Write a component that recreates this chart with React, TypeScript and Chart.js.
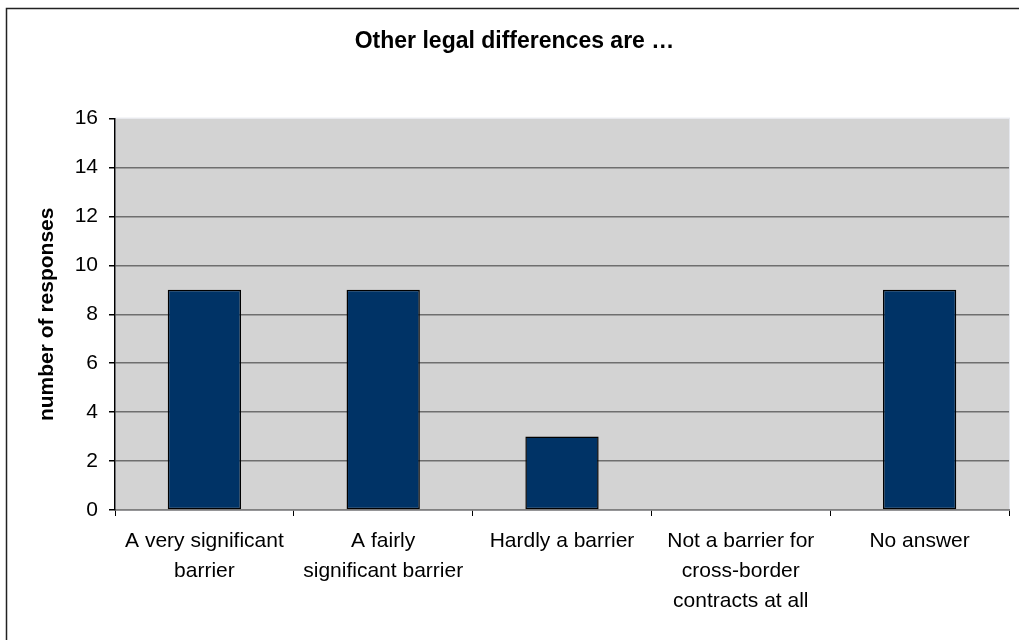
import React, { useEffect, useRef } from "react";
import { Chart, registerables } from "chart.js";

Chart.register(...registerables);

const chartTitle = "Other legal differences are …";
const yAxisTitle = "number of responses";
const categories: (string | string[])[] = [
  ["A very significant", "barrier"],
  ["A fairly", "significant barrier"],
  "Hardly a barrier",
  ["Not a barrier for", "cross-border", "contracts at all"],
  "No answer",
];
const responses = [9, 9, 3, 0, 9];
const yMin = 0;
const yMax = 16;
const yStep = 2;

const FONT = "'Liberation Sans', Arial, sans-serif";

const framePlugin = {
  id: "frameAndBg",
  beforeDraw(chart: any) {
    const { ctx, chartArea } = chart;
    ctx.save();
    ctx.fillStyle = "#D3D3D3";
    ctx.fillRect(chartArea.left, chartArea.top, chartArea.right - chartArea.left, chartArea.bottom - chartArea.top);
    ctx.strokeStyle = "#E6E8EE";
    ctx.lineWidth = 1;
    ctx.strokeRect(chartArea.left + 0.5, chartArea.top - 0.5, chartArea.right - chartArea.left, chartArea.bottom - chartArea.top + 1);
    ctx.strokeStyle = "#222";
    ctx.lineWidth = 1.5;
    ctx.beginPath();
    ctx.moveTo(6.5, chart.height);
    ctx.lineTo(6.5, 8.5);
    ctx.lineTo(chart.width, 8.5);
    ctx.stroke();
    ctx.restore();
  },
};

export default function App() {
  const ref = useRef<HTMLCanvasElement | null>(null);
  useEffect(() => {
    if (!ref.current) return;
    const chart = new Chart(ref.current, {
      type: "bar",
      data: {
        labels: categories,
        datasets: [
          {
            data: responses,
            backgroundColor: "#003366",
            borderColor: "#000000",
            borderWidth: 1.5,
            borderSkipped: false,
            categoryPercentage: 1,
            barPercentage: 0.41,
          },
        ],
      },
      options: {
        animation: false,
        responsive: false,
        maintainAspectRatio: false,
        layout: { padding: { left: 20, right: 10, top: 0, bottom: 0 } },
        plugins: {
          legend: { display: false },
          tooltip: { enabled: false },
          title: {
            display: true,
            text: chartTitle,
            color: "#000",
            font: { family: FONT, size: 23, weight: "bold", lineHeight: 1.2 },
            padding: { top: 27.5, bottom: 63.5 },
          },
        },
        scales: {
          x: {
            offset: true,
            grid: {
              offset: true,
              drawOnChartArea: false,
              drawTicks: true,
              tickLength: 6,
              tickColor: "#000",
            },
            border: { display: true, color: "#808080", width: 1.5 },
            ticks: {
              color: "#000",
              padding: 10,
              maxRotation: 0,
              autoSkip: false,
              font: { family: FONT, size: 21, lineHeight: 1.43 },
            },
            afterFit: (s: any) => {
              s.height = 130;
            },
          },
          y: {
            min: yMin,
            max: yMax,
            ticks: {
              stepSize: yStep,
              color: "#000",
              padding: 11,
              font: { family: FONT, size: 21 },
            },
            grid: {
              color: (c: any) => (c.tick && c.tick.value === yMax ? "rgba(0,0,0,0)" : "#6E6E6E"),
              lineWidth: 1.5,
              tickLength: 6,
              tickColor: "#000",
            },
            border: { display: true, color: "#000", width: 1.5 },
            title: {
              display: true,
              text: yAxisTitle,
              color: "#000",
              font: { family: FONT, size: 21, weight: "bold", lineHeight: 1.2 },
              padding: { top: 15, bottom: 0 },
            },
            afterFit: (s: any) => {
              s.width = 95;
            },
          },
        },
      },
      plugins: [framePlugin],
    });
    return () => chart.destroy();
  }, []);
  return (
    <div style={{ position: "fixed", left: 0, top: 0, width: 1019, height: 640, background: "#fff" }}>
      <canvas ref={ref} width={1019} height={640} style={{ display: "block", width: 1019, height: 640 }} />
    </div>
  );
}
